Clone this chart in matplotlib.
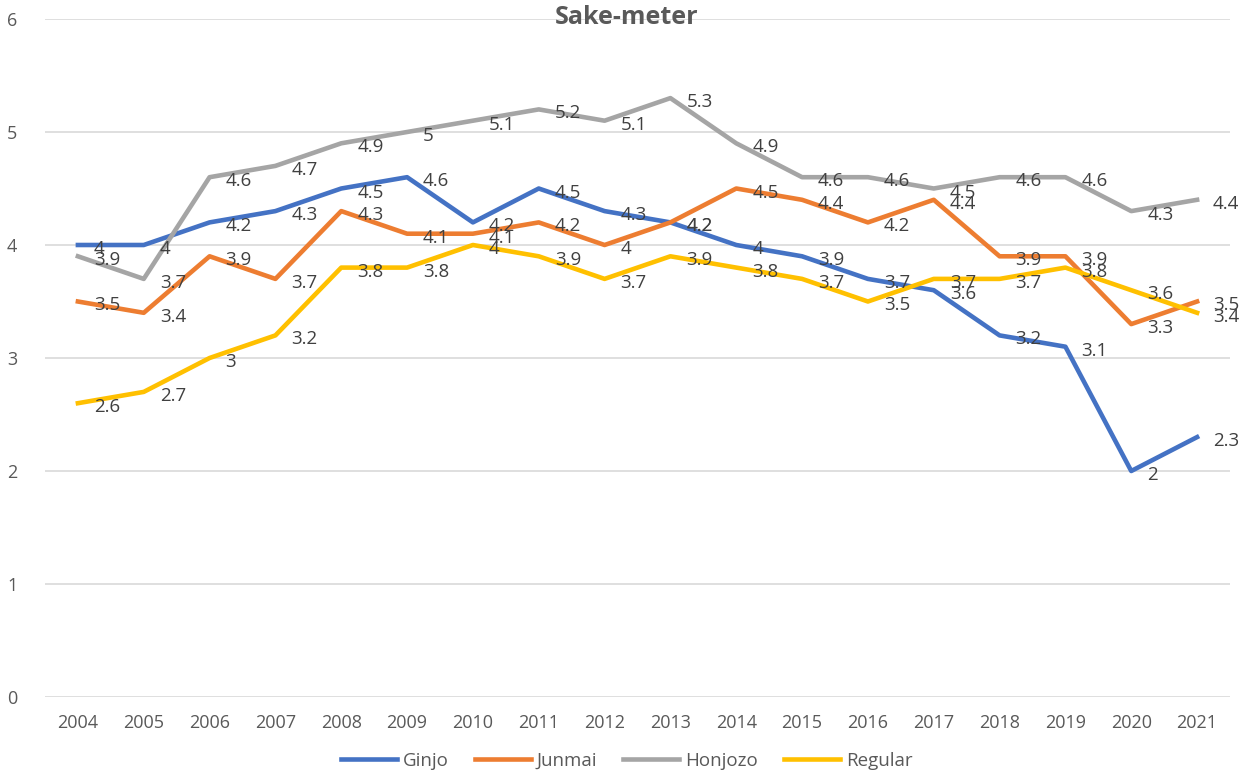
import matplotlib.pyplot as plt

# values
years = ['2004', '2005', '2006', '2007', '2008', '2009', '2010', '2011', '2012',
         '2013', '2014', '2015', '2016', '2017', '2018', '2019', '2020', '2021']
ginjo = [4, 4, 4.2, 4.3, 4.5, 4.6, 4.2, 4.5, 4.3, 4.2, 4, 3.9, 3.7, 3.6, 3.2, 3.1, 2, 2.3]
junmai = [3.5, 3.4, 3.9, 3.7, 4.3, 4.1, 4.1, 4.2, 4, 4.2, 4.5, 4.4, 4.2, 4.4, 3.9, 3.9, 3.3, 3.5]
honjozo = [3.9, 3.7, 4.6, 4.7, 4.9, 5, 5.1, 5.2, 5.1, 5.3, 4.9, 4.6, 4.6, 4.5, 4.6, 4.6, 4.3, 4.4]
regular = [2.6, 2.7, 3, 3.2, 3.8, 3.8, 4, 3.9, 3.7, 3.9, 3.8, 3.7, 3.5, 3.7, 3.7, 3.8, 3.6, 3.4]

series = [('Ginjo', ginjo, '#4472C4'),
          ('Junmai', junmai, '#ED7D31'),
          ('Honjozo', honjozo, '#A5A5A5'),
          ('Regular', regular, '#FFC000')]

plt.rcParams['font.family'] = ['Open Sans', 'DejaVu Sans']
text_col = '#404040'

fig = plt.figure(figsize=(12.53, 7.73), dpi=100)
ax = fig.add_axes([45 / 1253, 76 / 773, (1230 - 45) / 1253, (697 - 19) / 773])

x = list(range(len(years)))
for name, vals, col in series:
    ax.plot(x, vals, color=col, lw=3.3, label=name, solid_joinstyle='round')
    for xi, v in zip(x, vals):
        ax.annotate(f'{v:g}', (xi, v), xytext=(16, -4), textcoords='offset pixels',
                    ha='left', va='center', fontsize=13.5, color=text_col)

ax.set_xlim(-0.5, len(years) - 0.5)
ax.set_ylim(0, 6)
ax.set_xticks(x)
ax.set_xticklabels(years)
ax.set_yticks(range(7))
ax.tick_params(length=0, labelsize=13, labelcolor='#595959', pad=12)
ax.tick_params(axis='y', pad=20)
ax.grid(axis='y', color='#D9D9D9', lw=1.2)
ax.set_axisbelow(True)
for s in ax.spines.values():
    s.set_visible(False)

fig.text(0.5, 0.977, 'Sake-meter', ha='center', va='center', fontsize=18,
         fontweight='bold', color='#595959')
fig.legend(loc='center', bbox_to_anchor=(0.5, 0.016), ncol=4, frameon=False,
           fontsize=13.5, handlelength=3.0, columnspacing=1.4, handletextpad=0.3,
           labelcolor='#595959')

fig.savefig('out.png', dpi=100)
